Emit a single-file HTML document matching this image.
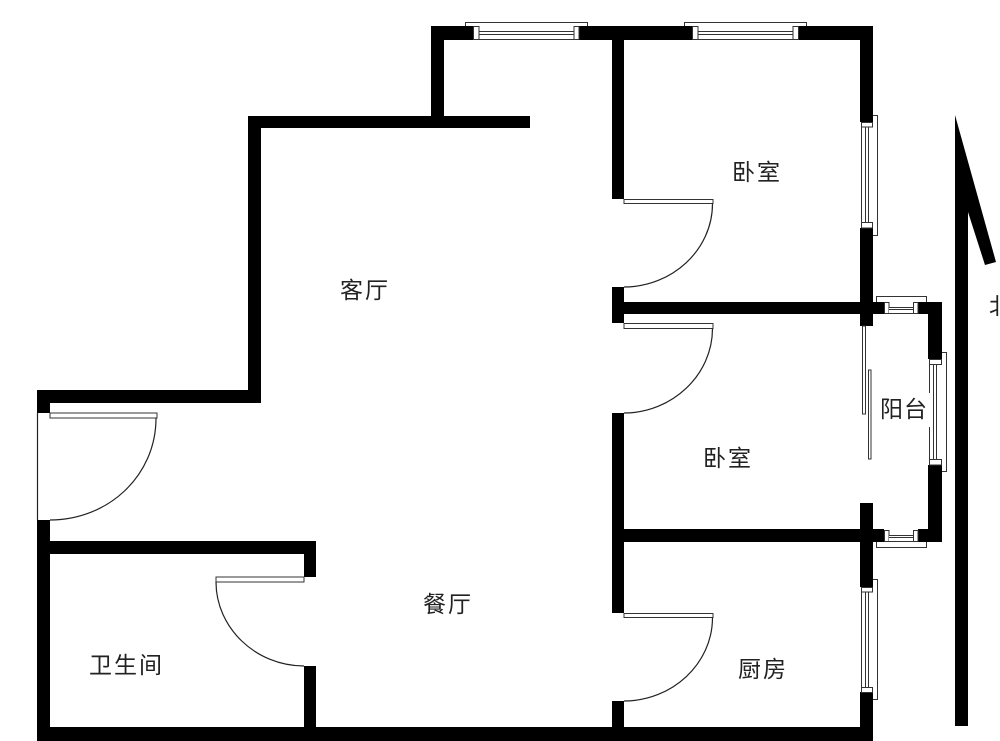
<!DOCTYPE html>
<html>
<head>
<meta charset="utf-8">
<style>
html,body{margin:0;padding:0;background:#fff;width:1000px;height:741px;overflow:hidden}
svg{display:block}
text{font-family:"Liberation Sans","Noto Sans CJK SC",sans-serif;font-size:23px;font-weight:400;fill:#222;letter-spacing:2px}
.w{fill:#000}
.l{fill:#fff;stroke:#333;stroke-width:1}
.a{fill:none;stroke:#222;stroke-width:1.2}
.t{fill:none;stroke:#333;stroke-width:1}
</style>
</head>
<body>
<svg width="1000" height="741" viewBox="0 0 1000 741" xmlns="http://www.w3.org/2000/svg">
<!-- walls -->
<rect class="w" x="431" y="26" width="442" height="14"/>
<rect class="w" x="431" y="26" width="13" height="102"/>
<rect class="w" x="248" y="116" width="282" height="12"/>
<rect class="w" x="248" y="116" width="13" height="287"/>
<rect class="w" x="37" y="390" width="224" height="13"/>
<rect class="w" x="37" y="390" width="13" height="23"/>
<rect class="w" x="37" y="520" width="13" height="221"/>
<rect class="w" x="37" y="541" width="279" height="13"/>
<rect class="w" x="304" y="541" width="12" height="36"/>
<rect class="w" x="304" y="666" width="12" height="75"/>
<rect class="w" x="37" y="727" width="836" height="14"/>
<rect class="w" x="612" y="26" width="12" height="173"/>
<rect class="w" x="612" y="287" width="12" height="36"/>
<rect class="w" x="612" y="413" width="12" height="200"/>
<rect class="w" x="612" y="701" width="12" height="40"/>
<rect class="w" x="612" y="302" width="272" height="12"/>
<rect class="w" x="612" y="529" width="272" height="13"/>
<rect class="w" x="860" y="26" width="13" height="96"/>
<rect class="w" x="860" y="228" width="13" height="98"/>
<rect class="w" x="860" y="503" width="13" height="84"/>
<rect class="w" x="860" y="692" width="13" height="49"/>
<rect class="w" x="918" y="302" width="24" height="12"/>
<rect class="w" x="928" y="302" width="14" height="57"/>
<rect class="w" x="928" y="465" width="14" height="77"/>
<rect class="w" x="918" y="529" width="24" height="13"/>

<!-- top windows -->
<rect x="473" y="26" width="106" height="14" fill="#fff"/>
<path class="t" d="M465.5 26V22.5H587.5V26"/>
<rect class="l" x="473.5" y="26.5" width="5.5" height="13"/>
<rect class="l" x="574" y="26.5" width="5" height="13"/>
<path class="t" d="M479 31.5H574M479 34.5H574M479 39.5H574"/>
<rect x="684" y="26" width="0" height="0"/>
<rect x="692" y="26" width="107" height="14" fill="#fff"/>
<path class="t" d="M684.5 26V22.5H806.5V26"/>
<rect class="l" x="692.5" y="26.5" width="5.5" height="13"/>
<rect class="l" x="793" y="26.5" width="5.5" height="13"/>
<path class="t" d="M698 31.5H793M698 34.5H793M698 39.5H793"/>

<!-- right windows -->
<rect x="860" y="122" width="13" height="106" fill="#fff"/>
<path class="t" d="M873 115.5H877.5V235.5H873"/>
<rect class="l" x="861.5" y="122.5" width="11" height="4.5"/>
<rect class="l" x="861.5" y="222.5" width="11" height="5.5"/>
<path class="t" d="M861.5 127V222M865.5 127V222M868.5 127V222"/>
<rect x="860" y="587" width="13" height="105" fill="#fff"/>
<path class="t" d="M873 579.5H877.5V699.5H873"/>
<rect class="l" x="861.5" y="587.5" width="11" height="4.5"/>
<rect class="l" x="861.5" y="687.5" width="11" height="5"/>
<path class="t" d="M861.5 592V687M865.5 592V687M868.5 592V687"/>

<!-- balcony windows -->
<path class="t" d="M876.5 302V296.5H926.5V302"/>
<rect class="l" x="884.5" y="302.5" width="4.5" height="11"/>
<rect class="l" x="913.5" y="302.5" width="4.5" height="11"/>
<rect x="889" y="307" width="24" height="7" fill="#fff"/>
<path class="t" d="M889 307.5H913M889 309.5H913M889 313.5H913"/>
<path class="t" d="M876.5 542V547.5H926.5V542"/>
<rect class="l" x="884.5" y="530.5" width="4.5" height="11"/>
<rect class="l" x="913.5" y="530.5" width="4.5" height="11"/>
<rect x="889" y="535" width="24" height="7" fill="#fff"/>
<path class="t" d="M889 535.5H913M889 537.5H913M889 541.5H913"/>
<path class="t" d="M942 352.5H946.5V471.5H942"/>
<rect x="928" y="359" width="14" height="106" fill="#fff"/>
<rect class="l" x="929.5" y="359.5" width="12" height="5"/>
<rect class="l" x="929.5" y="459.5" width="12" height="5.5"/>
<path class="t" d="M929.5 365V393M929.5 427V459M933.5 365V459M936.5 365V459"/>

<!-- balcony sliding door -->
<rect class="l" x="862.5" y="326" width="3" height="88"/>
<rect class="l" x="868.5" y="370" width="2.5" height="89"/>

<!-- doors -->
<rect class="l" x="624" y="199.5" width="89" height="4"/>
<path class="a" d="M712.5 203.5C712.5 250 672 287 624 287"/>
<rect class="l" x="624" y="323.5" width="89" height="5"/>
<path class="a" d="M712.5 328.5C712.5 375 672 413 624 413"/>
<rect class="l" x="624" y="613.5" width="89" height="4"/>
<path class="a" d="M712.5 617.5C712.5 664 672 701 624 701"/>
<rect class="l" x="50" y="413" width="107" height="5"/>
<path class="a" d="M156 418C156 476 108 520 50 520"/>
<path class="a" d="M37.5 413V520"/>
<rect class="l" x="216" y="577" width="88" height="5"/>
<path class="a" d="M216 582C216 628 256 666 304 666"/>

<!-- north arrow -->
<polygon class="w" points="955,115 996,262 985,265 968,212 968,726 955,726"/>

<!-- labels -->
<text x="732" y="180">卧室</text>
<text x="340" y="298">客厅</text>
<text x="703" y="466">卧室</text>
<text x="880" y="417" style="letter-spacing:1px">阳台</text>
<text x="423" y="612">餐厅</text>
<text x="89" y="673">卫生间</text>
<text x="738" y="677">厨房</text>
<text x="989" y="314">北</text>
</svg>
</body>
</html>
